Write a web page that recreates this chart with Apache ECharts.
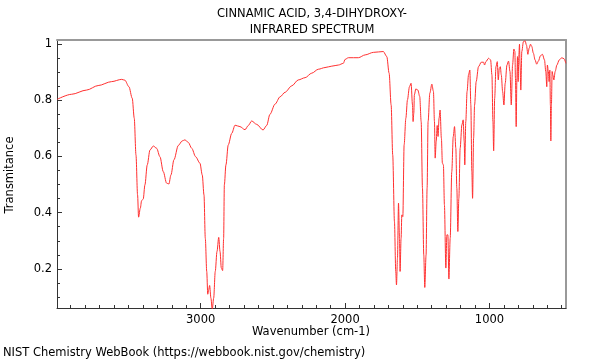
<!DOCTYPE html>
<html>
<head>
<meta charset="utf-8">
<script src="https://cdn.jsdelivr.net/npm/echarts@6/dist/echarts.min.js"></script>
<style>
html,body{margin:0;padding:0;background:#fff;}
#chart{width:600px;height:360px;}
</style>
</head>
<body>
<div id="chart"></div>
<script>
// Spectrum values
const wavenumber = [
3994,3894,3790,3710,3617,3547,3525,3497,3474,3460,3448,3437,3430,3418,3409,3398,3386,3370,3351,3328,
3305,3282,3259,3236,3220,3206,3185,3155,3128,3109,3086,3062,3035,3005,2989,2977,2968,2958,2951,2945,
2938,2929,2920,2910,2899,2887,2875,2866,2857,2848,2841,2836,2825,2809,2785,2762,2728,2693,2670,2647,
2612,2568,2543,2520,2485,2450,2416,2369,2324,2277,2231,2185,2139,2092,2046,2012,2000,1977,1908,1861,
1804,1735,1711,1695,1681,1670,1658,1649,1644,1637,1630,1623,1619,1612,1607,1600,1591,1579,1568,1554,
1543,1533,1529,1524,1520,1510,1496,1483,1473,1464,1455,1448,1439,1432,1425,1413,1399,1388,1381,1376,
1369,1362,1356,1349,1342,1333,1326,1319,1312,1302,1295,1288,1281,1272,1261,1251,1242,1233,1226,1219,
1212,1203,1191,1182,1175,1171,1164,1155,1145,1136,1129,1122,1117,1110,1103,1092,1076,1057,1041,1034,
1025,1006,992,983,976,971,964,955,946,939,932,925,918,909,900,891,879,868,858,849,
840,831,824,820,815,810,806,801,797,792,788,783,776,765,753,744,734,725,716,707,
696,684,673,661,647,633,619,610,603,599,592,587,582,578,575,571,566,561,554,545,
533,517,499,483,471
];
const transmittance = [
0.803,0.821,0.836,0.852,0.866,0.874,0.871,0.848,0.807,0.736,0.605,0.463,0.384,0.416,0.443,0.448,0.499,0.570,0.623,0.637,
0.629,0.599,0.546,0.505,0.502,0.534,0.588,0.639,0.655,0.659,0.650,0.629,0.599,0.576,0.534,0.463,0.309,0.191,0.110,0.125,
0.141,0.096,0.055,0.096,0.191,0.262,0.312,0.262,0.203,0.194,0.309,0.499,0.570,0.641,0.682,0.711,0.706,0.695,0.710,0.726,
0.714,0.694,0.710,0.750,0.786,0.812,0.828,0.851,0.872,0.880,0.896,0.910,0.916,0.921,0.925,0.931,0.945,0.951,0.951,0.961,
0.970,0.973,0.955,0.896,0.783,0.605,0.368,0.191,0.143,0.238,0.434,0.309,0.191,0.309,0.392,0.386,0.641,0.736,0.801,0.848,
0.860,0.783,0.724,0.754,0.819,0.840,0.836,0.813,0.724,0.487,0.250,0.134,0.250,0.487,0.724,0.825,0.857,0.831,0.724,0.594,
0.653,0.710,0.671,0.736,0.765,0.665,0.576,0.570,0.428,0.203,0.321,0.321,0.164,0.309,0.546,0.670,0.706,0.629,0.487,0.333,
0.451,0.629,0.712,0.730,0.653,0.570,0.724,0.831,0.890,0.907,0.783,0.546,0.451,0.665,0.783,0.866,0.919,0.935,0.935,0.925,
0.937,0.949,0.943,0.890,0.724,0.620,0.807,0.919,0.937,0.872,0.913,0.919,0.890,0.831,0.783,0.860,0.925,0.939,0.902,0.783,
0.925,0.982,0.973,0.878,0.706,0.878,0.955,0.866,0.955,0.999,0.925,0.836,0.973,1.008,1.011,0.996,0.963,0.985,0.999,0.991,
0.967,0.943,0.928,0.939,0.958,0.963,0.943,0.902,0.848,0.925,0.902,0.866,0.907,0.783,0.655,0.783,0.902,0.890,0.872,0.902,
0.925,0.943,0.951,0.947,0.931
];
const xMajorTicks = [1000, 2000, 3000];
const xMinorTicks = [500,600,700,800,900,1000,1100,1200,1300,1400,1500,1600,1700,1800,1900,2000,
  2100,2200,2300,2400,2500,2600,2700,2800,2900,3000,3100,3200,3300,3400,3500,3600,3700,3800,3900];
const yMajorTicks = [0.2, 0.4, 0.6, 0.8, 1];
const yMinorTicks = [0.1,0.15,0.2,0.25,0.3,0.35,0.4,0.45,0.5,0.55,0.6,0.65,0.7,0.75,0.8,0.85,0.9,0.95,1];
const titleLines = ['CINNAMIC ACID, 3,4-DIHYDROXY-', 'INFRARED SPECTRUM'];

const FONT = 'DejaVu Sans';
const FS = 11.5;
const X_MIN = 470, X_MAX = 3995, Y_MIN = 0.061, Y_MAX = 1.014;
const grid = {left: 57, right: 34, top: 40, bottom: 52};

function xAx(extra) {
  return Object.assign({
    type: 'value', inverse: true, min: X_MIN, max: X_MAX, gridIndex: 0,
    splitLine: {show: false}, axisLine: {show: false}, axisTick: {show: false}, axisLabel: {show: false}
  }, extra);
}
function yAx(extra) {
  return Object.assign({
    type: 'value', min: Y_MIN, max: Y_MAX, gridIndex: 0,
    splitLine: {show: false}, axisLine: {show: false}, axisTick: {show: false}, axisLabel: {show: false}
  }, extra);
}
const txt = (s) => ({text: s, font: FS + 'px "DejaVu Sans"', fill: '#000'});

const chart = echarts.init(document.getElementById('chart'), null, {renderer: 'canvas'});
chart.setOption({
  animation: false,
  backgroundColor: '#fff',
  textStyle: {fontFamily: FONT},
  grid: Object.assign({containLabel: false}, grid),
  xAxis: [
    xAx({position: 'bottom',
      axisLine: {show: true, onZero: false, lineStyle: {color: '#333', width: 1}},
      axisTick: {show: true, inside: true, length: 5, customValues: xMajorTicks, lineStyle: {color: '#333'}},
      axisLabel: {show: true, customValues: xMajorTicks, margin: 6, fontFamily: FONT, fontSize: FS, color: '#000',
        formatter: (v) => String(v)}
    }),
    xAx({position: 'bottom',
      axisTick: {show: true, inside: true, length: 3, customValues: xMinorTicks, lineStyle: {color: '#333'}}
    }),
    xAx({position: 'top', axisLine: {show: true, onZero: false, lineStyle: {color: '#999', width: 2}}})
  ],
  yAxis: [
    yAx({position: 'left',
      axisLine: {show: true, onZero: false, lineStyle: {color: '#333', width: 1}},
      axisTick: {show: true, inside: true, length: 5, customValues: yMajorTicks, lineStyle: {color: '#333'}},
      axisLabel: {show: true, customValues: yMajorTicks, margin: 5, fontFamily: FONT, fontSize: FS, color: '#000',
        formatter: (v) => String(v)}
    }),
    yAx({position: 'left',
      axisTick: {show: true, inside: true, length: 3, customValues: yMinorTicks, lineStyle: {color: '#333'}}
    }),
    yAx({position: 'right', axisLine: {show: true, onZero: false, lineStyle: {color: '#999', width: 2}}})
  ],
  graphic: [
    {type: 'text', x: 312, y: 14, style: Object.assign(txt(titleLines[0]), {align: 'center', verticalAlign: 'middle'})},
    {type: 'text', x: 312, y: 30, style: Object.assign(txt(titleLines[1]), {align: 'center', verticalAlign: 'middle'})},
    {type: 'text', x: 311, y: 332, style: Object.assign(txt('Wavenumber (cm-1)'), {align: 'center', verticalAlign: 'middle'})},
    {type: 'text', x: 10, y: 175, rotation: Math.PI / 2, style: Object.assign(txt('Transmitance'), {align: 'center', verticalAlign: 'middle'})},
    {type: 'text', x: 3, y: 353, style: Object.assign(txt('NIST Chemistry WebBook (https://webbook.nist.gov/chemistry)'), {align: 'left', verticalAlign: 'middle'})}
  ],
  series: [{
    type: 'line',
    xAxisIndex: 0, yAxisIndex: 0,
    data: wavenumber.map((w, i) => [w, transmittance[i]]),
    showSymbol: false,
    smooth: 0.3,
    smoothMonotone: 'x',
    clip: true,
    lineStyle: {color: '#ff3030', width: 1},
    silent: true
  }]
});
</script>
</body>
</html>
